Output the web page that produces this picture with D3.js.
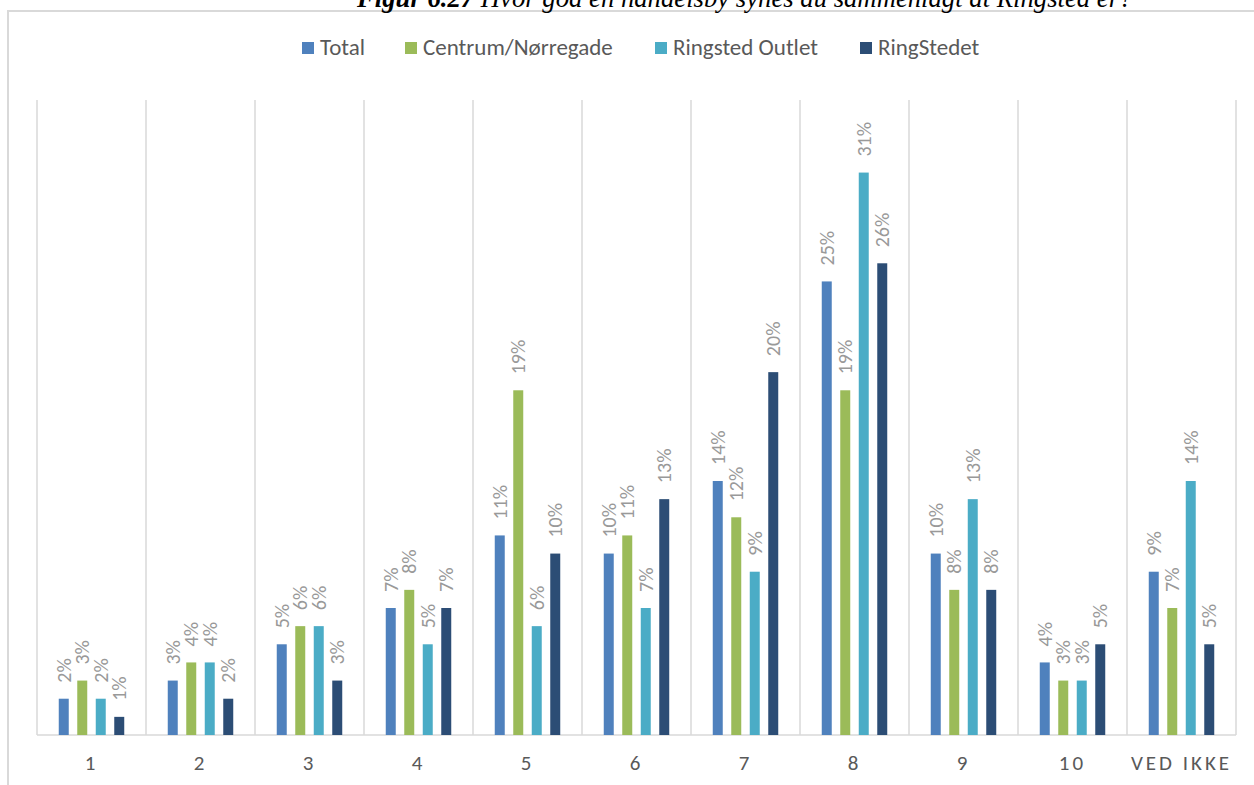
<!DOCTYPE html>
<html>
<head>
<meta charset="utf-8">
<script src="https://cdn.jsdelivr.net/npm/d3@7"></script>
<style>
  html, body { margin: 0; padding: 0; background: #fff; overflow: hidden; }
  svg { display: block; }
</style>
</head>
<body>
<svg id="chart" width="1254" height="785"></svg>
<script>
const categories = ["1", "2", "3", "4", "5", "6", "7", "8", "9", "10", "VED IKKE"];
const seriesNames = ["Total", "Centrum/Nørregade", "Ringsted Outlet", "RingStedet"];
const totalValues      = [2, 3, 5, 7, 11, 10, 14, 25, 10, 4, 9];
const centrumValues    = [3, 4, 6, 8, 19, 11, 12, 19, 8, 3, 7];
const outletValues     = [2, 4, 6, 5, 6, 7, 9, 31, 13, 3, 14];
const ringstedetValues = [1, 2, 3, 7, 10, 13, 20, 26, 8, 5, 5];
const seriesColors = ["#4F81BD", "#9BBB59", "#4BACC6", "#2C4D75"];
const titleBold = "Figur 6.27 ";
const titleRest = "Hvor god en handelsby synes du sammenlagt at Ringsted er?";

const seriesValues = [totalValues, centrumValues, outletValues, ringstedetValues];
const rows = categories.map((c, i) => ({
  cat: c,
  vals: seriesNames.map((s, j) => ({ series: s, idx: j, value: seriesValues[j][i] }))
}));

const svg = d3.select("#chart");
const font = "Calibri, Carlito, Lato, 'Open Sans', sans-serif";

// outer frame (cropped document chart border)
svg.append("line").attr("x1", 8).attr("x2", 1260).attr("y1", 11).attr("y2", 11)
  .attr("stroke", "#d9d9d9").attr("stroke-width", 2);
svg.append("line").attr("x1", 8).attr("x2", 8).attr("y1", 10).attr("y2", 790)
  .attr("stroke", "#d9d9d9").attr("stroke-width", 2);

// caption above the chart (cropped at the top edge, as in the reference)
const title = svg.append("text").attr("x", 357).attr("y", 7)
  .attr("font-family", "'Liberation Serif', 'Times New Roman', serif")
  .attr("font-size", 26.7).attr("font-style", "italic").attr("fill", "#000");
title.append("tspan").attr("font-weight", "bold").text(titleBold);
title.append("tspan").text(titleRest);

const plotLeft = 37, plotRight = 1236, plotTop = 100, plotBottom = 735;

const x0 = d3.scaleBand().domain(categories).range([plotLeft, plotRight]).padding(0);
const groupW = 74;
const x1 = d3.scaleBand().domain(seriesNames).range([0, groupW]).paddingInner(0.46).paddingOuter(0.23);
const y = d3.scaleLinear().domain([0, 35]).range([plotBottom, plotTop]);

// vertical category separators
const seps = d3.range(categories.length + 1).map(i => plotLeft + i * x0.step());
svg.append("g").selectAll("line").data(seps).join("line")
  .attr("x1", d => d).attr("x2", d => d)
  .attr("y1", plotTop).attr("y2", plotBottom)
  .attr("stroke", "#d9d9d9").attr("stroke-width", 1.5);

// baseline axis
svg.append("line").attr("x1", plotLeft).attr("x2", plotRight)
  .attr("y1", plotBottom).attr("y2", plotBottom)
  .attr("stroke", "#d9d9d9").attr("stroke-width", 1.5);

// bars
const groups = svg.append("g").selectAll("g").data(rows).join("g")
  .attr("transform", d => `translate(${x0(d.cat) + (x0.bandwidth() - groupW) / 2},0)`);

groups.selectAll("rect").data(d => d.vals).join("rect")
  .attr("x", d => x1(d.series))
  .attr("width", x1.bandwidth())
  .attr("y", d => y(d.value))
  .attr("height", d => y(0) - y(d.value))
  .attr("fill", d => seriesColors[d.idx]);

// data labels
groups.selectAll("text").data(d => d.vals).join("text")
  .attr("transform", d => `translate(${x1(d.series) + x1.bandwidth() / 2},${y(d.value) - 16}) rotate(-90)`)
  .attr("dy", "0.36em")
  .attr("font-family", font).attr("font-size", 20)
  .attr("fill", "#999999")
  .text(d => d.value + "%");

// category axis labels
const xAxis = d3.axisBottom(x0).tickSize(0).tickPadding(0);
const axisG = svg.append("g").attr("transform", `translate(0,${plotBottom})`).call(xAxis);
axisG.select(".domain").remove();
axisG.selectAll("text")
  .attr("y", 35)
  .attr("dy", 0)
  .attr("font-family", font).attr("font-size", 21)
  .attr("letter-spacing", "3px")
  .attr("fill", "#595959");

// legend
const legendX = [302, 405, 655, 860];
const legend = svg.append("g").selectAll("g").data(seriesNames).join("g")
  .attr("transform", (d, i) => `translate(${legendX[i]},0)`);
legend.append("rect").attr("x", 0).attr("y", 42).attr("width", 12).attr("height", 12)
  .attr("fill", (d, i) => seriesColors[i]);
legend.append("text").attr("x", 18).attr("y", 55)
  .attr("font-family", font).attr("font-size", 23).attr("fill", "#595959")
  .text(d => d);
</script>
</body>
</html>
